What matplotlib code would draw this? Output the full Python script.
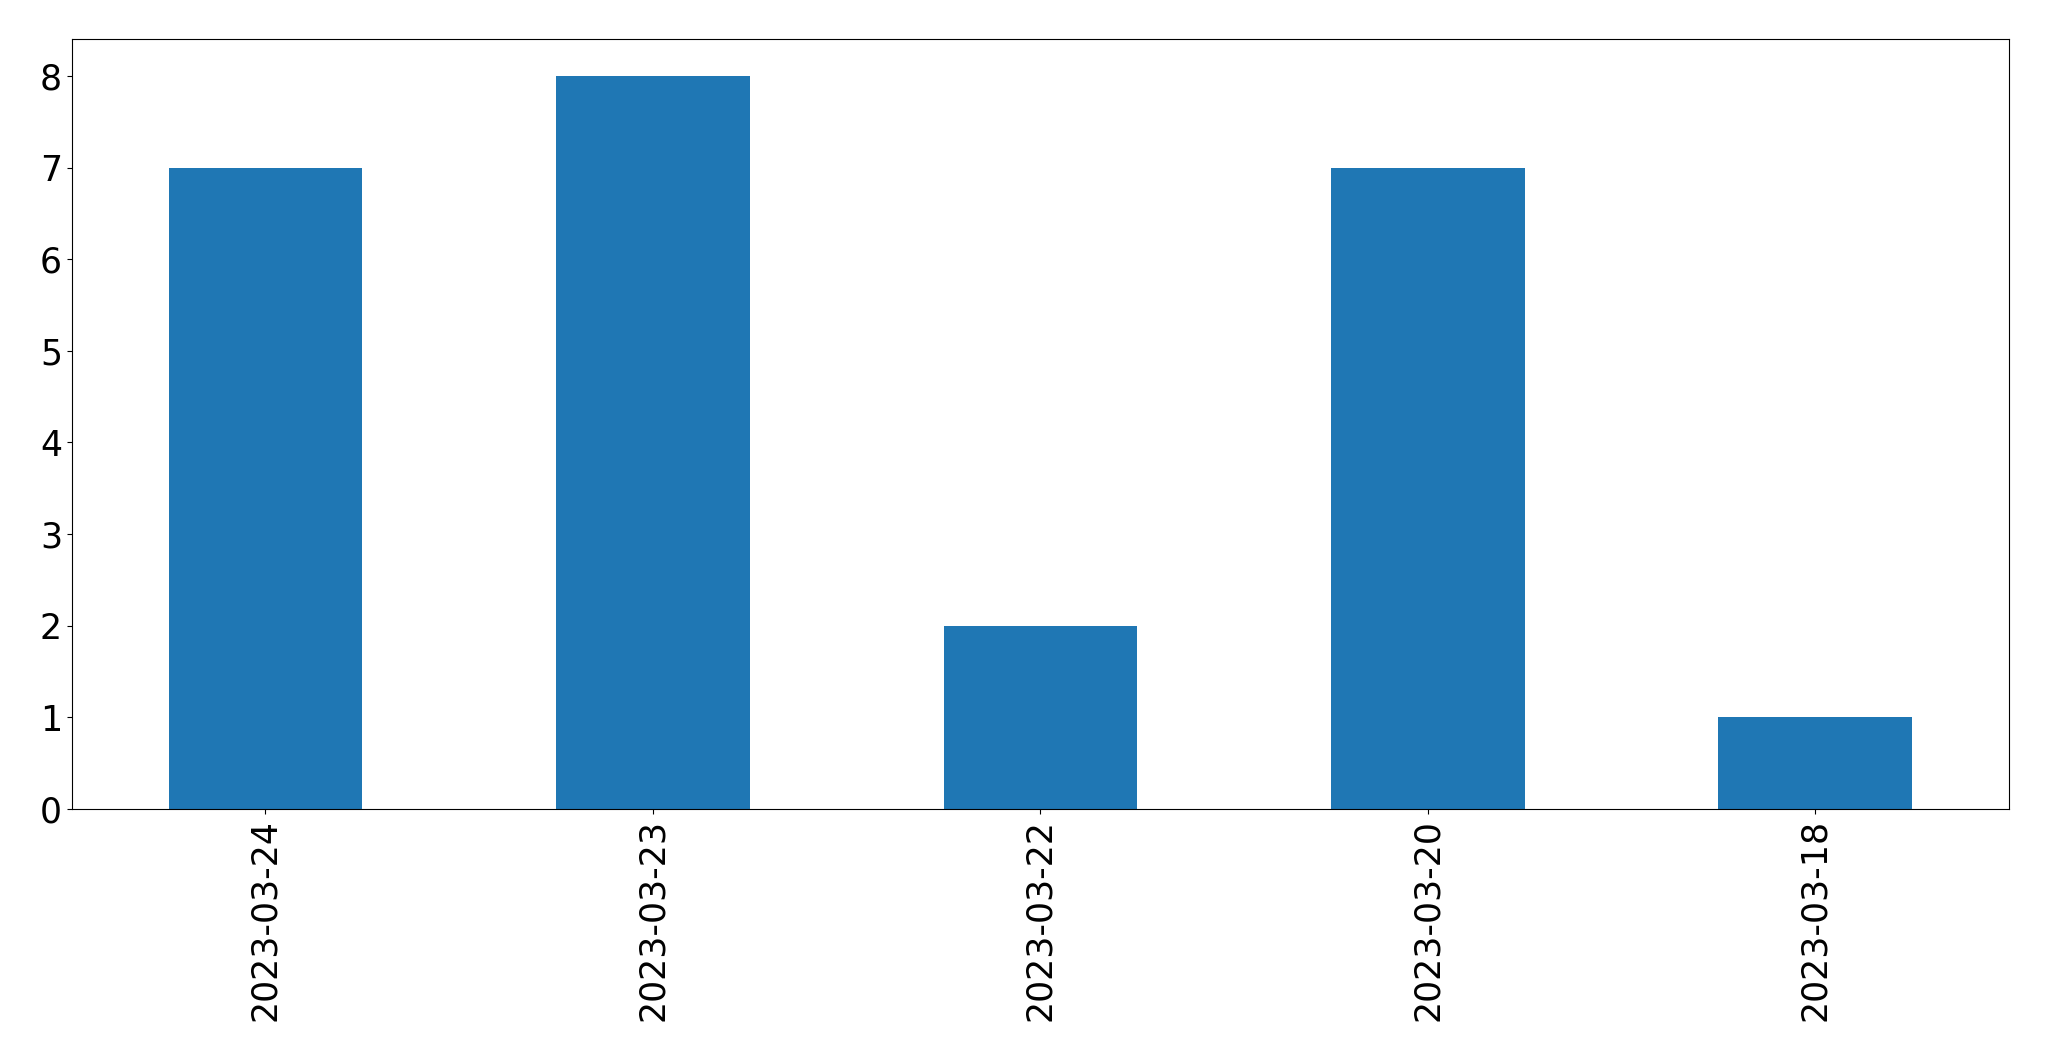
import matplotlib
matplotlib.use('Agg')
import matplotlib.pyplot as plt
import pandas as pd

# dates and counts
dates = ['2023-03-24', '2023-03-23', '2023-03-22', '2023-03-20', '2023-03-18']
counts = [7, 8, 2, 7, 1]

s = pd.Series(counts, index=dates)

fig = plt.figure(figsize=(20.49, 10.61), dpi=100)
ax = s.plot.bar(color='#1f77b4', fontsize=25)
fig.subplots_adjust(left=0.035, right=0.9805, top=0.963, bottom=0.2375)

fig.savefig('out.png', dpi=100)
